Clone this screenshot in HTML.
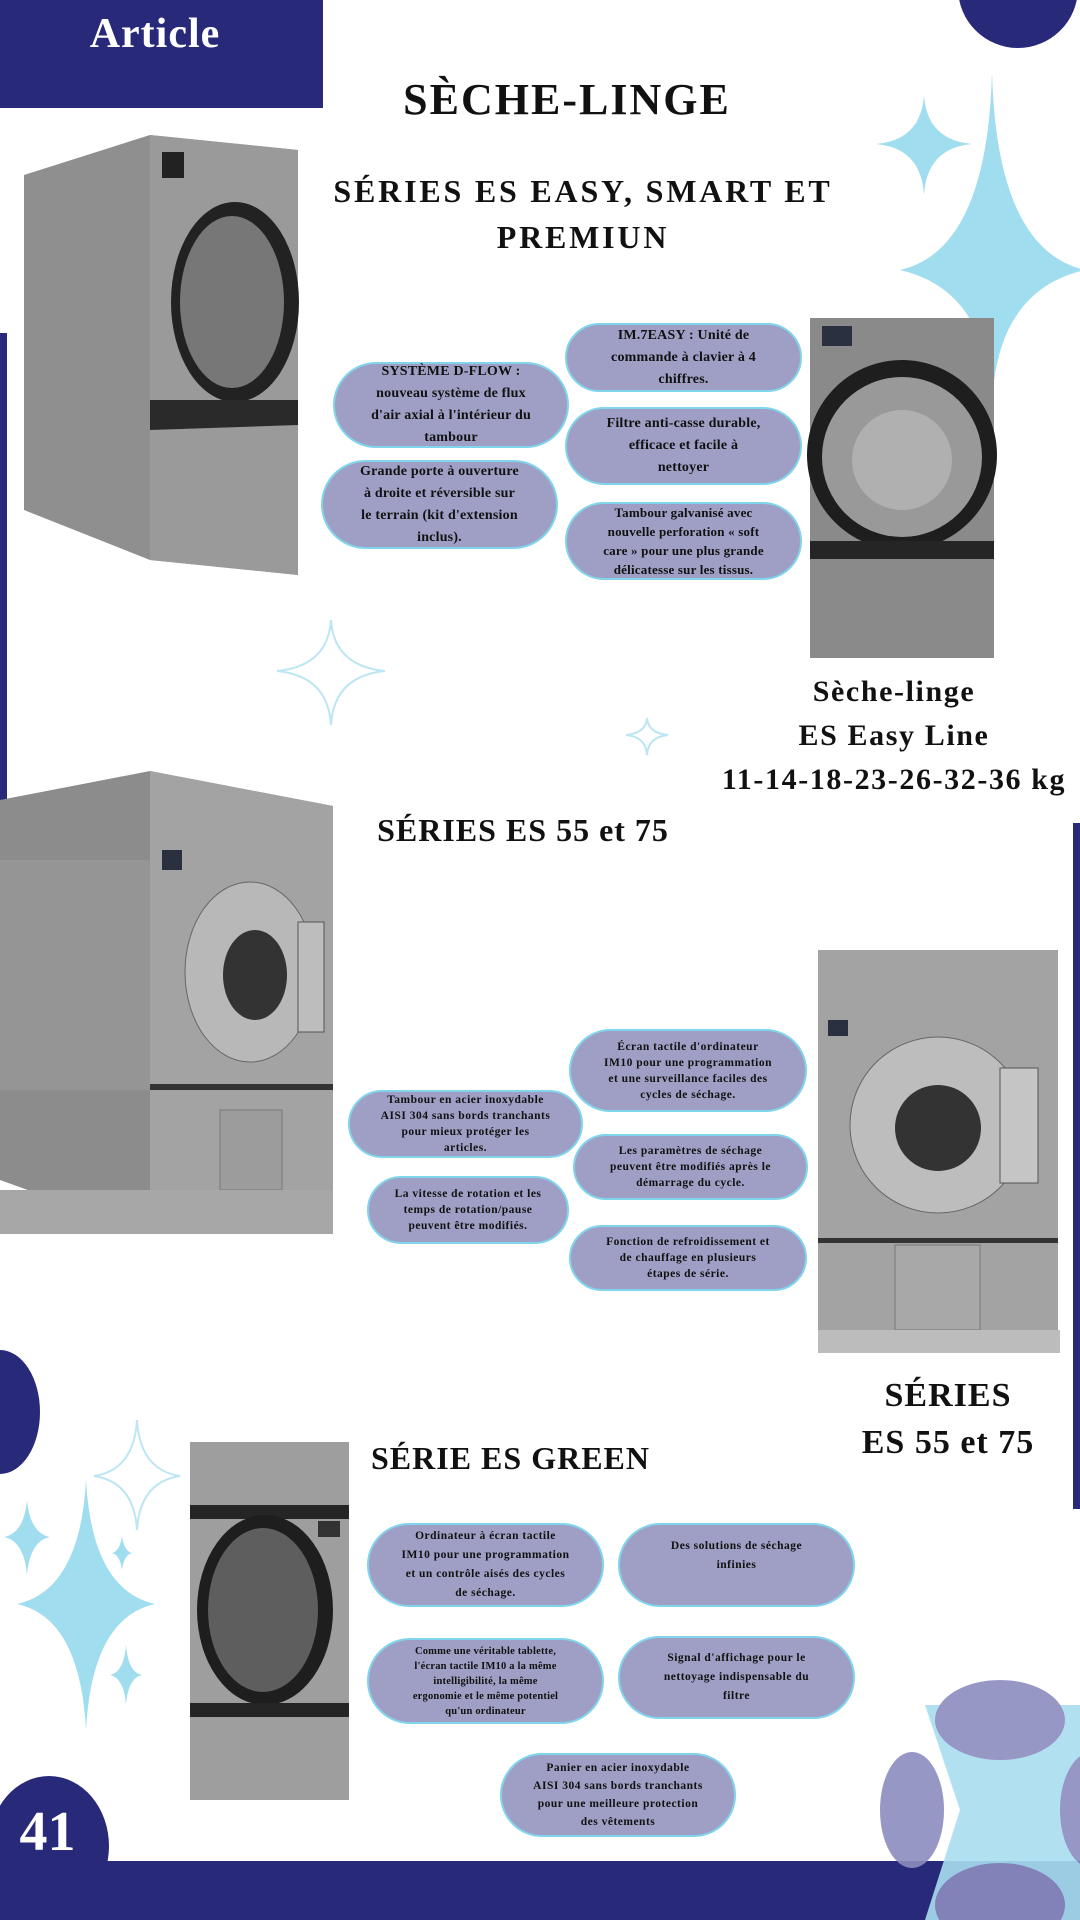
<!DOCTYPE html>
<html><head><meta charset="utf-8"><style>
*{margin:0;padding:0;box-sizing:border-box}
body{width:1080px;height:1920px;position:relative;overflow:hidden;background:#fff;font-family:"Liberation Serif",serif;color:#111}
.abs{position:absolute}
.t{position:absolute;font-weight:bold;text-align:center;white-space:nowrap}
.pill{position:absolute;background:#9f9fc5;border:2.5px solid #80d4ec;border-radius:999px;display:flex;align-items:center;justify-content:center;text-align:center;font-weight:bold;color:#111;white-space:nowrap;letter-spacing:.2px}
.p14{font-size:14px;line-height:22px}.p12{font-size:11.5px;line-height:16px;letter-spacing:.5px}
.navy{background:#29297a}
</style></head><body>
<svg class="abs" style="left:0;top:0" width="1080" height="1920">
<g fill="#a0ddef">
<path d="M992 73 Q997 250 1085 270 Q997 290 992 404 Q987 290 900 270 Q987 250 992 73Z"/>
<path d="M924 95 Q927 140 972 144 Q927 148 924 195 Q921 148 876 144 Q921 140 924 95Z"/>
<path d="M86 1480 Q92 1590 155 1604 Q92 1618 86 1730 Q80 1618 17 1604 Q80 1590 86 1480Z"/>
<path d="M27 1500 Q30 1533 50 1537 Q30 1541 27 1575 Q24 1541 4 1537 Q24 1533 27 1500Z"/>
<path d="M122 1536 Q124 1551 132 1553 Q124 1555 122 1570 Q120 1555 112 1553 Q120 1551 122 1536Z"/>
<path d="M126 1645 Q128 1672 142 1675 Q128 1678 126 1705 Q124 1678 110 1675 Q124 1672 126 1645Z"/>
</g>
<g fill="none" stroke="#bde6f3" stroke-width="2">
<path d="M331 620 Q334 666 385 671 Q334 676 331 725 Q328 676 277 671 Q328 666 331 620Z"/>
<path d="M647 718 Q648 733 668 735 Q648 737 647 755 Q646 737 626 735 Q646 733 647 718Z"/>
<path d="M137 1420 Q140 1470 180 1476 Q140 1482 137 1530 Q134 1482 94 1476 Q134 1470 137 1420Z"/>
</g>
<circle cx="1018" cy="-12" r="60" fill="#29297a"/>
<ellipse cx="0" cy="1412" rx="40" ry="62" fill="#29297a"/>
<rect x="0" y="333" width="7" height="686" fill="#29297a"/>
<rect x="1073" y="823" width="7" height="686" fill="#29297a"/>
<rect x="0" y="1861" width="1080" height="59" fill="#29297a"/>
<ellipse cx="49" cy="1846" rx="60" ry="70" fill="#29297a"/>
<!-- logo -->
<g opacity="0.9">
<polygon points="925,1705 1080,1705 1080,1920 925,1920 960,1810" fill="#a9def0"/>
<ellipse cx="1000" cy="1720" rx="65" ry="40" fill="#8c8cc0"/>
<ellipse cx="912" cy="1810" rx="32" ry="58" fill="#8c8cc0"/>
<ellipse cx="1092" cy="1810" rx="32" ry="58" fill="#8c8cc0"/>
<ellipse cx="1000" cy="1905" rx="65" ry="42" fill="#8c8cc0"/>
</g>
<!-- machine 1 -->
<g>
<polygon points="24,175 150,135 298,150 298,575 150,560 24,510" fill="#8f8f8f"/>
<polygon points="150,135 298,150 298,575 150,560" fill="#9a9a9a"/>
<rect x="162" y="152" width="22" height="26" fill="#222"/>
<ellipse cx="235" cy="302" rx="64" ry="100" fill="#222"/>
<ellipse cx="232" cy="302" rx="52" ry="86" fill="#777"/>
<polygon points="150,400 298,400 298,425 150,430" fill="#2a2a2a"/>
</g>
<!-- machine 2 -->
<g>
<rect x="810" y="318" width="184" height="340" fill="#8a8a8a"/>
<rect x="822" y="326" width="30" height="20" fill="#2a3040"/>
<circle cx="902" cy="455" r="95" fill="#1e1e1e"/>
<circle cx="902" cy="457" r="80" fill="#999"/>
<circle cx="902" cy="460" r="50" fill="#b0b0b0"/>
<rect x="810" y="541" width="184" height="18" fill="#252525"/>
</g>
<!-- machine 3 -->
<g>
<polygon points="0,800 150,771 333,806 333,1220 150,1234 0,1180" fill="#8c8c8c"/>
<polygon points="150,771 333,806 333,1220 150,1234" fill="#a3a3a3"/>
<rect x="0" y="860" width="150" height="230" fill="#959595"/>
<rect x="162" y="850" width="20" height="20" fill="#2a3040"/>
<ellipse cx="250" cy="972" rx="65" ry="90" fill="#b8b8b8" stroke="#666"/>
<ellipse cx="255" cy="975" rx="32" ry="45" fill="#333"/>
<rect x="298" y="922" width="26" height="110" fill="#bdbdbd" stroke="#555"/>
<rect x="150" y="1084" width="183" height="6" fill="#333"/>
<rect x="220" y="1110" width="62" height="80" fill="#9c9c9c" stroke="#777"/>
<rect x="0" y="1190" width="333" height="44" fill="#a7a7a7"/>
</g>
<!-- machine 4 -->
<g>
<rect x="818" y="950" width="240" height="385" fill="#a3a3a3"/>
<rect x="828" y="1020" width="20" height="16" fill="#2a3040"/>
<ellipse cx="938" cy="1125" rx="88" ry="88" fill="#bdbdbd" stroke="#666"/>
<circle cx="938" cy="1128" r="43" fill="#333"/>
<rect x="1000" y="1068" width="38" height="115" fill="#c5c5c5" stroke="#555"/>
<rect x="818" y="1238" width="240" height="5" fill="#333"/>
<rect x="895" y="1245" width="85" height="85" fill="#a8a8a8" stroke="#777"/>
<rect x="818" y="1330" width="242" height="23" fill="#bcbcbc"/>
</g>
<!-- machine 5 -->
<g>
<rect x="190" y="1442" width="159" height="358" fill="#9e9e9e"/>
<rect x="190" y="1505" width="159" height="14" fill="#252525"/>
<ellipse cx="265" cy="1610" rx="68" ry="95" fill="#1e1e1e"/>
<ellipse cx="263" cy="1610" rx="55" ry="82" fill="#5e5e5e"/>
<rect x="190" y="1703" width="159" height="14" fill="#252525"/>
<rect x="318" y="1521" width="22" height="16" fill="#333"/>
</g>
</svg>
<div class="abs navy" style="left:0;top:0;width:323px;height:108px"></div>
<div class="t" style="left:0;top:10px;width:310px;font-size:42px;color:#fff;letter-spacing:1px">Article</div>
<div class="t" style="left:367px;top:74px;width:400px;font-size:44px;letter-spacing:2px">SÈCHE-LINGE</div>
<div class="t" style="left:283px;top:168px;width:600px;font-size:32px;line-height:46px;letter-spacing:2.8px">SÉRIES ES EASY, SMART ET<br>PREMIUN</div>
<div class="t" style="left:323px;top:812px;width:400px;font-size:32px;letter-spacing:1px">SÉRIES ES 55 et 75</div>
<div class="t" style="left:371px;top:1440px;font-size:32px;text-align:left;letter-spacing:1px">SÉRIE ES GREEN</div>
<div class="t" style="left:694px;top:670px;width:400px;font-size:30px;line-height:44px;letter-spacing:1.6px">Sèche-linge<br>ES Easy Line<br>11-14-18-23-26-32-36 kg</div>
<div class="t" style="left:798px;top:1372px;width:300px;font-size:34px;line-height:47px;letter-spacing:1px">SÉRIES<br>ES 55 et 75</div>
<div class="t" style="left:0;top:1800px;width:95px;font-size:56px;color:#fff">41</div>

<div class="pill p14" style="left:333px;top:362px;width:236px;height:86px">SYSTÈME D-FLOW :<br>nouveau système de flux<br>d'air axial à l'intérieur du<br>tambour</div>
<div class="pill p14" style="left:321px;top:460px;width:237px;height:89px">Grande porte à ouverture<br>à droite et réversible sur<br>le terrain (kit d'extension<br>inclus).</div>
<div class="pill p14" style="left:565px;top:323px;width:237px;height:69px">IM.7EASY : Unité de<br>commande à clavier à 4<br>chiffres.</div>
<div class="pill p14" style="left:565px;top:407px;width:237px;height:78px">Filtre anti-casse durable,<br>efficace et facile à<br>nettoyer</div>
<div class="pill p14" style="left:565px;top:502px;width:237px;height:78px;font-size:13px;line-height:19px">Tambour galvanisé avec<br>nouvelle perforation « soft<br>care » pour une plus grande<br>délicatesse sur les tissus.</div>

<div class="pill p12" style="left:348px;top:1090px;width:235px;height:68px">Tambour en acier inoxydable<br>AISI 304 sans bords tranchants<br>pour mieux protéger les<br>articles.</div>
<div class="pill p12" style="left:367px;top:1176px;width:202px;height:68px">La vitesse de rotation et les<br>temps de rotation/pause<br>peuvent être modifiés.</div>
<div class="pill p12" style="left:569px;top:1029px;width:238px;height:83px">Écran tactile d'ordinateur<br>IM10 pour une programmation<br>et une surveillance faciles des<br>cycles de séchage.</div>
<div class="pill p12" style="left:573px;top:1134px;width:235px;height:66px">Les paramètres de séchage<br>peuvent être modifiés après le<br>démarrage du cycle.</div>
<div class="pill p12" style="left:569px;top:1225px;width:238px;height:66px">Fonction de refroidissement et<br>de chauffage en plusieurs<br>étapes de série.</div>

<div class="pill p12" style="left:367px;top:1523px;width:237px;height:84px;line-height:19px">Ordinateur à écran tactile<br>IM10 pour une programmation<br>et un contrôle aisés des cycles<br>de séchage.</div>
<div class="pill p12" style="left:618px;top:1523px;width:237px;height:84px;line-height:19px">Des solutions de séchage<br>infinies<br>&nbsp;</div>
<div class="pill p12" style="left:367px;top:1638px;width:237px;height:86px;font-size:10.5px;line-height:15px;letter-spacing:.2px">Comme une véritable tablette,<br>l'écran tactile IM10 a la même<br>intelligibilité, la même<br>ergonomie et le même potentiel<br>qu'un ordinateur</div>
<div class="pill p12" style="left:618px;top:1636px;width:237px;height:83px;line-height:19px">Signal d'affichage pour le<br>nettoyage indispensable du<br>filtre</div>
<div class="pill p12" style="left:500px;top:1753px;width:236px;height:84px;line-height:18px">Panier en acier inoxydable<br>AISI 304 sans bords tranchants<br>pour une meilleure protection<br>des vêtements</div>
</body></html>
